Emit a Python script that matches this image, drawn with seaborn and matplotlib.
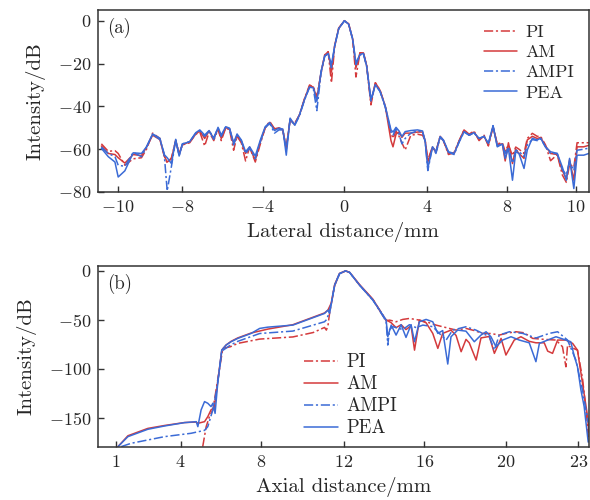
import numpy as np
import pandas as pd
import matplotlib
matplotlib.use("Agg")
import matplotlib.pyplot as plt
import seaborn as sns

# ---------------- data: (a) lateral profile ----------------
lat_x = [-12.00, -11.66, -11.33, -11.17, -10.84, -10.43, -10.02, -9.77, -9.47, -9.11,
         -8.90, -8.75, -8.54, -8.33, -8.16, -8.00, -7.64, -7.34, -7.14, -6.90,
         -6.68, -6.45, -6.24, -6.08, -5.86, -5.67, -5.47, -5.30, -5.09, -4.88,
         -4.68, -4.40, -4.15, -3.91, -3.69, -3.45, -3.23, -3.04, -2.87, -2.68,
         -2.46, -2.22, -1.97, -1.72, -1.53, -1.36, -1.15, -0.97, -0.80, -0.64,
         -0.48, -0.28, 0.00, 0.21, 0.41, 0.57, 0.77, 0.94, 1.10, 1.31,
         1.53, 1.76, 2.02, 2.30, 2.40, 2.55, 2.70, 2.84, 3.00, 3.28,
         3.61, 3.86, 3.99, 4.12, 4.35, 4.52, 4.73, 4.89, 5.14, 5.42,
         5.67, 5.91, 6.16, 6.40, 6.65, 6.90, 7.11, 7.34, 7.55, 7.80,
         7.94, 8.10, 8.30, 8.46, 8.62, 8.87, 9.03, 9.28, 9.52, 9.69,
         9.93, 10.18, 10.51, 10.76, 10.96, 11.12, 11.33, 11.49, 11.82, 12.07]
lat_pea = [-59.6, -63.5, -66.0, -73.0, -70.1, -61.7, -62.0, -58.9, -52.9, -54.9,
           -62.5, -64.0, -66.7, -55.4, -63.2, -57.6, -56.5, -52.3, -51.0, -53.4,
           -51.3, -55.4, -49.8, -53.4, -49.5, -50.2, -57.0, -52.9, -55.7, -61.2,
           -58.9, -63.2, -55.7, -49.5, -47.6, -51.3, -50.2, -50.6, -62.8, -45.5,
           -48.7, -44.0, -36.9, -31.0, -31.4, -37.7, -23.6, -16.5, -15.3, -20.5,
           -11.8, -3.7, -0.1, -1.6, -8.7, -19.7, -15.8, -15.3, -21.2, -36.9,
           -29.9, -33.0, -40.0, -51.0, -52.0, -49.8, -51.5, -54.1, -51.8, -51.3,
           -51.0, -51.5, -56.5, -69.0, -58.9, -61.2, -54.1, -55.7, -61.2, -62.0,
           -56.5, -51.8, -53.4, -52.3, -54.9, -54.1, -57.3, -49.1, -58.9, -57.6,
           -64.3, -59.6, -74.5, -61.2, -62.0, -69.0, -60.4, -54.9, -55.7, -54.9,
           -58.9, -61.2, -62.0, -68.3, -74.5, -64.3, -78.4, -62.8, -62.8, -62.0]
lat_am = [-58.5, -62.0, -62.5, -64.0, -66.5, -62.5, -63.0, -59.0, -53.5, -55.5,
          -63.0, -66.0, -64.5, -56.0, -62.5, -58.0, -56.5, -53.0, -51.5, -55.0,
          -51.5, -55.0, -50.5, -55.0, -50.0, -50.5, -57.5, -53.5, -56.5, -62.0,
          -59.5, -65.0, -56.5, -50.0, -47.5, -50.5, -50.0, -51.0, -60.0, -46.0,
          -48.5, -44.0, -36.5, -30.5, -31.0, -36.5, -24.0, -16.0, -14.5, -24.0,
          -11.5, -3.5, 0.0, -1.5, -8.5, -22.0, -15.0, -15.0, -21.0, -38.0,
          -29.0, -32.5, -40.0, -56.0, -58.9, -53.0, -52.0, -54.5, -52.5, -52.5,
          -52.0, -52.0, -56.0, -66.0, -59.0, -61.5, -54.0, -56.0, -62.0, -62.0,
          -56.0, -51.0, -53.5, -52.0, -55.5, -54.0, -58.0, -49.5, -58.0, -57.5,
          -65.5, -57.0, -66.7, -60.0, -62.0, -64.3, -55.7, -54.0, -55.0, -54.5,
          -58.5, -62.0, -62.5, -70.0, -73.8, -65.0, -74.5, -58.9, -58.9, -58.2]
lat_pi = [-57.5, -61.0, -60.7, -62.0, -67.5, -64.5, -64.0, -60.0, -52.5, -55.0,
          -63.0, -66.5, -64.0, -56.0, -62.0, -58.0, -57.0, -53.0, -52.0, -58.5,
          -52.0, -56.0, -50.5, -56.0, -50.0, -51.0, -60.5, -54.0, -57.0, -65.5,
          -59.0, -66.0, -57.5, -50.0, -47.0, -50.5, -50.5, -51.5, -59.0, -46.5,
          -48.0, -44.0, -36.5, -30.0, -31.0, -35.5, -24.5, -16.0, -14.5, -29.0,
          -12.0, -3.5, 0.0, -1.5, -9.0, -26.3, -15.0, -15.0, -21.0, -39.3,
          -29.0, -32.5, -40.0, -52.5, -55.0, -51.5, -54.0, -57.0, -60.4, -53.5,
          -53.0, -53.5, -56.0, -65.0, -59.0, -61.0, -54.0, -56.0, -62.5, -61.5,
          -56.0, -51.0, -53.0, -51.5, -56.0, -53.5, -58.5, -49.5, -57.5, -57.0,
          -61.0, -58.0, -63.0, -59.0, -60.0, -62.0, -55.0, -52.6, -54.0, -54.0,
          -58.0, -65.4, -62.5, -72.0, -75.5, -67.0, -68.5, -57.0, -57.0, -57.0]
lat_ampi = [-59.0, -62.0, -63.5, -67.5, -68.0, -61.5, -63.5, -59.0, -53.0, -55.5,
            -62.0, -79.5, -68.0, -55.5, -63.0, -57.5, -56.5, -52.5, -51.5, -54.0,
            -51.5, -54.5, -50.0, -54.0, -49.5, -50.5, -58.0, -53.5, -56.0, -62.0,
            -59.5, -64.5, -56.5, -50.0, -48.0, -52.5, -51.0, -51.0, -60.0, -46.0,
            -49.0, -44.5, -37.0, -31.0, -32.0, -42.0, -24.0, -16.5, -15.5, -22.0,
            -12.0, -3.7, 0.0, -1.6, -8.7, -20.5, -16.0, -15.5, -21.5, -37.5,
            -30.0, -33.0, -40.5, -52.0, -53.5, -50.5, -53.0, -57.5, -55.0, -52.5,
            -51.5, -52.0, -56.5, -70.0, -59.0, -62.0, -54.5, -56.0, -61.5, -62.5,
            -56.5, -52.0, -53.5, -52.5, -55.0, -54.0, -57.5, -49.0, -58.5, -57.5,
            -62.0, -59.0, -66.5, -60.5, -61.0, -63.5, -58.0, -55.5, -56.0, -55.0,
            -59.0, -62.0, -62.0, -69.5, -72.0, -66.0, -70.0, -60.5, -60.0, -59.5]

# ---------------- data: (b) axial profile ----------------
ax_pea_x = [0.87, 1.36, 2.34, 3.17, 4.15, 4.73, 4.81, 4.97, 5.14, 5.30, 5.46, 5.55, 5.66,
            5.79, 5.99, 6.20, 6.45, 6.78, 7.44, 7.86, 8.26, 9.50, 11.06, 11.23, 11.31, 11.39,
            11.56, 11.80, 12.10, 12.30, 12.79, 13.45, 13.94, 14.10, 14.18, 14.35, 14.59,
            14.84, 15.08, 15.33, 15.50, 15.74, 16.07, 16.40, 16.65, 16.89, 17.14, 17.30,
            17.63, 18.04, 18.45, 18.78, 19.03, 19.27, 19.52, 19.85, 20.26, 20.67, 21.16,
            21.49, 21.66, 22.07, 22.48, 22.97, 23.21, 23.38, 23.54, 23.71, 23.87, 24.07]
ax_pea = [-179.6, -169.4, -161.9, -158.5, -155.1, -154.1, -159.2, -142.1, -133.6, -135.3,
          -138.7, -135.3, -145.6, -114.9, -80.9, -75.8, -72.4, -69.0, -63.9, -58.8, -57.5,
          -55.4, -43.5, -40.1, -43.5, -34.3, -14.6, -2.7, 0.0, -1.7, -14.6, -29.9, -45.2,
          -50.3, -67.3, -55.4, -65.6, -55.0, -68.0, -55.0, -72.4, -52.0, -49.6, -52.0,
          -63.9, -61.0, -95.2, -67.3, -60.5, -61.6, -72.4, -65.6, -62.2, -67.3, -77.5,
          -70.7, -67.3, -70.7, -73.5, -92.8, -74.1, -70.7, -67.3, -70.7, -72.4, -87.0,
          -97.9, -121.7, -138.7, -175.0]
ax_am_x = [0.87, 1.36, 2.34, 3.17, 4.15, 4.73, 4.81, 5.14, 5.30, 5.46, 5.62, 5.75, 5.99,
           6.20, 6.45, 6.78, 7.44, 8.26, 9.50, 11.06, 11.23, 11.39, 11.56, 11.80, 12.10,
           12.30, 12.79, 13.45, 13.94, 14.10, 14.35, 14.59, 14.84, 15.08, 15.33, 15.50,
           15.74, 16.07, 16.40, 16.65, 16.89, 17.30, 17.55, 17.80, 18.04, 18.20, 18.54,
           18.78, 19.19, 19.44, 19.77, 20.01, 20.42, 20.75, 21.16, 21.49, 21.90, 22.07,
           22.31, 22.56, 22.97, 23.30, 23.54, 23.79, 24.04, 24.10]
ax_am = [-179.6, -168.5, -161.0, -158.0, -155.0, -154.5, -155.8, -154.1, -149.0, -142.0,
         -140.0, -120.0, -81.0, -75.8, -72.0, -68.5, -63.5, -59.5, -55.0, -43.0, -40.0,
         -33.0, -14.0, -2.5, 0.0, -1.5, -14.0, -29.0, -46.0, -50.0, -53.0, -58.0, -55.0,
         -60.0, -56.0, -81.0, -50.3, -53.0, -63.9, -79.2, -63.9, -60.5, -66.0, -82.6,
         -70.0, -73.5, -91.1, -68.5, -67.0, -84.3, -69.0, -86.0, -70.7, -67.3, -72.0,
         -73.5, -73.5, -82.0, -84.3, -70.7, -70.7, -74.1, -81.0, -115.0, -149.0, -165.0]
ax_pi_x = [5.05, 5.22, 5.38, 5.55, 5.79, 6.04, 6.42, 6.78, 7.86, 9.50, 10.50, 11.06, 11.15,
           11.23, 11.31, 11.39, 11.56, 11.80, 12.10, 12.30, 12.79, 13.45, 13.94, 14.10,
           14.27, 14.59, 14.92, 15.25, 15.74, 16.23, 16.56, 16.89, 17.55, 18.04, 18.45,
           18.86, 19.27, 19.68, 20.10, 20.51, 20.92, 21.33, 21.90, 22.48, 22.80, 22.97,
           23.05, 23.21, 23.54, 23.79, 24.00, 24.07]
ax_pi = [-179.6, -159.2, -149.0, -142.0, -111.5, -79.2, -77.5, -74.1, -69.7, -67.5, -63.0,
         -57.8, -60.5, -56.0, -43.0, -34.0, -15.0, -3.0, 0.0, -1.7, -14.6, -29.5, -45.0,
         -51.0, -50.3, -52.0, -49.6, -48.6, -50.3, -53.0, -55.4, -57.1, -60.5, -58.8,
         -61.0, -63.9, -64.0, -65.6, -63.5, -62.2, -63.3, -69.0, -70.0, -70.7, -77.5,
         -98.0, -76.0, -78.0, -81.0, -110.0, -150.0, -170.0]
ax_ampi_x = [1.03, 1.52, 3.17, 4.47, 5.14, 5.30, 5.55, 5.75, 5.99, 6.42, 6.78, 7.86, 9.50,
             11.06, 11.15, 11.23, 11.31, 11.39, 11.56, 11.80, 12.10, 12.30, 12.79, 13.45,
             13.94, 14.10, 14.18, 14.27, 14.43, 14.92, 15.25, 15.58, 15.91, 16.40, 16.73,
             17.06, 17.38, 18.04, 18.53, 19.19, 19.44, 19.68, 20.18, 20.84, 21.49, 22.15,
             22.56, 23.05, 23.46, 23.79, 24.07]
ax_ampi = [-179.6, -176.2, -169.4, -166.0, -163.0, -159.2, -142.0, -120.0, -82.0, -75.8,
           -72.0, -64.0, -61.5, -52.0, -50.0, -46.0, -40.0, -33.0, -14.5, -3.0, 0.0, -1.6,
           -14.6, -30.0, -46.0, -52.0, -75.8, -60.0, -57.0, -60.0, -55.0, -58.0, -55.4,
           -57.0, -64.0, -70.7, -60.5, -57.1, -60.5, -67.3, -81.0, -65.6, -62.2, -63.9,
           -68.6, -63.9, -62.2, -70.7, -91.0, -122.0, -155.0]

series_names = ["PI", "AM", "AMPI", "PEA"]
lat_ticks = [-11.18, -8.03, -4.04, 0.0, 4.09, 8.03, 11.43]
lat_tick_labels = ["-10", "-8", "-4", "0", "4", "8", "10"]
ax_ticks = [0.75, 3.96, 7.95, 12.0, 15.99, 20.01, 23.58]
ax_tick_labels = ["1", "4", "8", "12", "16", "20", "23"]
lat_yticks = [0, -20, -40, -60, -80]
ax_yticks = [0, -50, -100, -150]

# ---------------- style ----------------
sns.set_style("ticks")
plt.rcParams["font.family"] = ["cmr10", "DejaVu Serif"]
plt.rcParams["mathtext.fontset"] = "cm"
plt.rcParams["axes.unicode_minus"] = True

RED = "#d43a3c"
BLUE = "#3b6bd6"
DASHDOT = (0, (6, 1.8, 1.4, 1.8))
styles = {
    "PI": dict(color=RED, linestyle=DASHDOT),
    "AM": dict(color=RED, linestyle="-"),
    "AMPI": dict(color=BLUE, linestyle=DASHDOT),
    "PEA": dict(color=BLUE, linestyle="-"),
}

fig = plt.figure(figsize=(5.9, 5.0), dpi=100)
ax1 = fig.add_axes([0.166, 0.616, 0.832, 0.364])
ax2 = fig.add_axes([0.166, 0.106, 0.832, 0.362])

lat_df = pd.DataFrame({"x": lat_x, "PI": lat_pi, "AM": lat_am, "AMPI": lat_ampi, "PEA": lat_pea})
for name in series_names:
    sns.lineplot(data=lat_df, x="x", y=name, ax=ax1, label=name, lw=1.1,
                 estimator=None, sort=False, **styles[name])

ax_data = {
    "PI": (ax_pi_x, ax_pi),
    "AM": (ax_am_x, ax_am),
    "AMPI": (ax_ampi_x, ax_ampi),
    "PEA": (ax_pea_x, ax_pea),
}
for name in series_names:
    xs, ys = ax_data[name]
    d = pd.DataFrame({"x": xs, "y": ys})
    sns.lineplot(data=d, x="x", y="y", ax=ax2, label=name, lw=1.1,
                 estimator=None, sort=False, **styles[name])


def fmt(s):
    return r"$%s$" % s


for ax, xt, xl, yt, xlim, ylim, xlabel, tag in [
    (ax1, lat_ticks, lat_tick_labels, lat_yticks, (-12.17, 12.07), (-80, 5), "Lateral distance/mm", "(a)"),
    (ax2, ax_ticks, ax_tick_labels, ax_yticks, (-0.12, 24.1), (-180, 5), "Axial distance/mm", "(b)"),
]:
    ax.set_xlim(*xlim)
    ax.set_ylim(*ylim)
    ax.set_xticks(xt)
    ax.set_xticklabels([fmt(s) for s in xl])
    ax.set_yticks(yt)
    ax.set_yticklabels([fmt(str(v)) for v in yt])
    ax.tick_params(direction="in", length=4, width=1.0, labelsize=13, pad=5, color="#333333")
    for sp in ax.spines.values():
        sp.set_linewidth(1.1)
        sp.set_color("#333333")
    ax.set_xlabel(xlabel, fontsize=15, labelpad=5)
    ax.set_ylabel("Intensity/dB", fontsize=15, labelpad=9)
    ax.text(0.018, 0.955, tag, transform=ax.transAxes, fontsize=13.5, va="top", ha="left")

leg1 = ax1.legend(loc="upper right", bbox_to_anchor=(1.0, 1.0), frameon=False, fontsize=13,
                  handlelength=1.8, handletextpad=0.5, labelspacing=0.25, borderpad=0.3)
leg2 = ax2.legend(loc="upper left", bbox_to_anchor=(0.39, 0.60), frameon=False, fontsize=13.5,
                  handlelength=1.8, handletextpad=0.45, labelspacing=0.22, borderpad=0.3)

fig.savefig("out.png", dpi=100)
